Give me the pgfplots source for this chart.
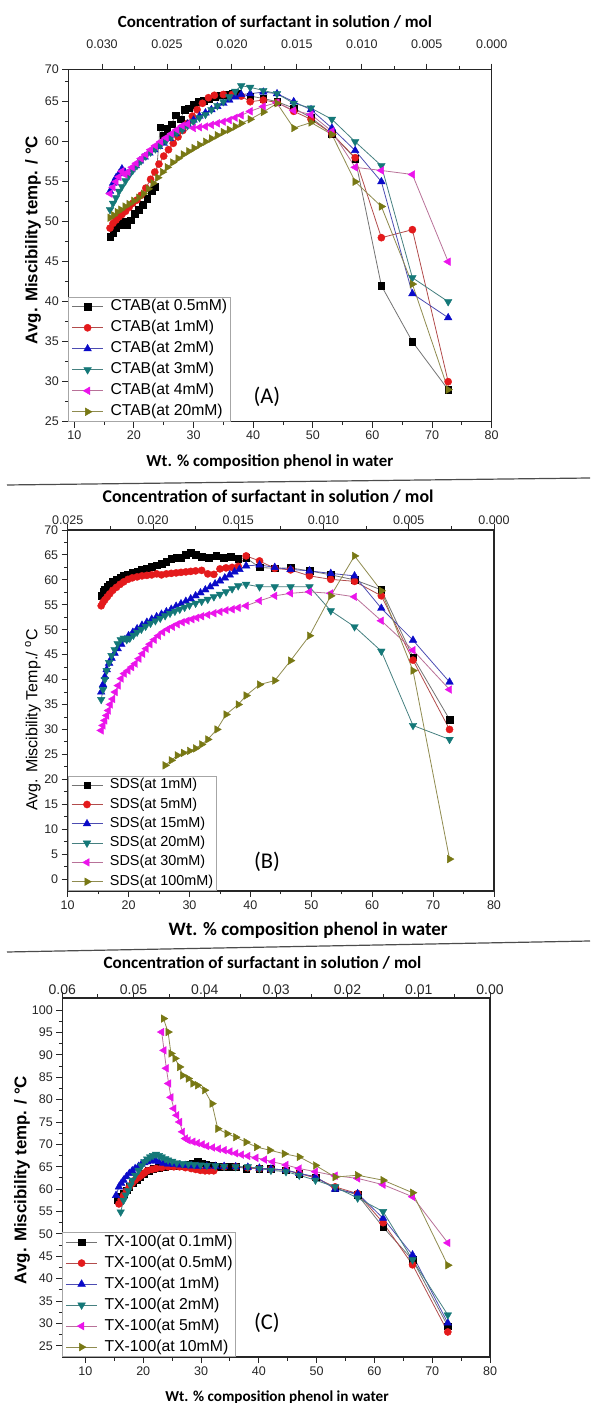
\documentclass[border=0pt]{standalone}
\usepackage{fontspec}
\setmainfont{Liberation Sans}
\newfontfamily\carlito{Carlito}
\usepackage{pgfplots}
\pgfplotsset{compat=1.18}

\definecolor{cred}{RGB}{228,26,28}
\definecolor{cblue}{RGB}{10,10,200}
\definecolor{cteal}{RGB}{20,120,120}
\definecolor{cmag}{RGB}{235,20,235}
\definecolor{colive}{RGB}{120,120,20}

\pgfplotsset{
  panel/.style={
    scale only axis,
    axis line style={black!85, line width=1.1pt},
    every tick/.style={black!85, line width=0.9pt},
    major tick length=6pt, minor tick length=3.5pt,
    tick align=outside, xtick pos=left, ytick pos=left,
    tick label style={font=\fontsize{12.5}{14}\selectfont, text=black!85},
    /pgf/number format/assume math mode=true,
    legend cell align=left,
    legend image code/.code={\draw[mark repeat=2,mark phase=2,##1] plot coordinates {(0pt,0pt) (15.5pt,0pt) (31pt,0pt)};},
    legend style={at={(axis description cs:0,0)}, anchor=south west, draw=gray!70,
      line width=0.8pt, fill=white, column sep=7pt, inner xsep=3pt, inner ysep=2pt,
      nodes={inner sep=0pt, text height=11.5pt, text depth=3.5pt}, row sep=6pt},
    xlabel style={font=\carlito\bfseries\fontsize{16.8}{18}\selectfont, anchor=center},
    ylabel style={font=\bfseries\fontsize{16.9}{18}\selectfont, anchor=center},
    every axis plot/.append style={line width=0.8pt},
  },
  topaxis/.style={
    scale only axis, axis x line*=top, axis y line=none, x dir=reverse,
    ymin=0, ymax=1, scaled x ticks=false,
    axis line style={black!85, line width=1.1pt},
    every tick/.style={black!85, line width=0.9pt},
    major tick length=6pt, minor tick length=3.5pt, minor x tick num=1,
    tick align=outside,
    tick label style={font=\fontsize{12.5}{14}\selectfont, text=black!85},
    /pgf/number format/assume math mode=true,
    xlabel style={font=\carlito\bfseries\fontsize{17}{18}\selectfont, anchor=center},
  },
  sA/.style={draw=black!55, mark=square*, mark size=3.3pt, mark options={solid, line width=0.4pt, draw=black, fill=black}},
  sB/.style={draw=red!40!gray, mark=*, mark size=3.6pt, mark options={solid, line width=0.4pt, draw=cred, fill=cred}},
  sC/.style={draw=blue!40!gray, mark=triangle*, mark size=4.4pt, mark options={solid, line width=0.4pt, draw=cblue, fill=cblue}},
  sD/.style={draw=teal!45!gray, mark=triangle*, mark size=4.4pt, mark options={solid, line width=0.4pt, rotate=180, draw=cteal, fill=cteal}},
  sE/.style={draw=magenta!40!gray, mark=triangle*, mark size=4.4pt, mark options={solid, line width=0.4pt, rotate=90, draw=cmag, fill=cmag}},
  sF/.style={draw=olive!45!gray, mark=triangle*, mark size=4.4pt, mark options={solid, line width=0.4pt, rotate=-90, draw=colive, fill=colive}},
}

\begin{document}
\begin{tikzpicture}[x=1pt,y=1pt]
\path[use as bounding box] (0,0) rectangle (590,1403);

% separators
\draw[black!70, line width=1.2pt] (7,918) -- (590,925);
\draw[black!70, line width=1.2pt] (7,451) -- (590,462);

% ---------- (A) CTAB ----------
\begin{axis}[panel, at={(68.3pt,981.3pt)}, anchor=south west,
  width=423.4pt, height=352pt,
  xmin=9, xmax=80, ymin=25, ymax=69,
  xtick={10,20,...,80}, minor xtick={15,25,...,75},
  ytick={25,30,35,40,45,50,55,60,65,69}, yticklabels={25,30,35,40,45,50,55,60,65,70},
  minor ytick={27.5,32.5,...,67.5},
  xlabel={Wt. \% composition phenol in water},
  xlabel style={at={(axis description cs:0.476,-0.1145)}},
  ylabel={Avg. Miscibility temp. / °C},
  ylabel style={at={(axis description cs:-0.0834,0.516)}},
  legend style={font=\fontsize{15.7}{18}\selectfont},
]
\addplot[sA] coordinates {(16.0,48.1)(16.5,48.6)(17.0,49.2)(17.5,49.6)(18.2,50.0)(18.8,49.6)(19.5,50.2)(20.1,51.0)(20.8,51.5)(21.5,52.1)(22.2,52.9)(23.0,53.9)(23.6,54.4)(24.4,61.8)(25.0,60.8)(25.6,61.6)(26.3,62.2)(27.0,63.3)(27.8,62.8)(28.5,64.0)(29.2,64.2)(30.0,64.6)(30.8,65.0)(31.7,65.1)(32.6,65.4)(33.5,65.6)(34.5,65.8)(35.5,65.9)(36.5,66.0)(37.5,66.0)(39.5,65.7)(41.7,65.4)(44.0,65.0)(46.8,64.2)(49.7,63.0)(53.2,61.0)(57.1,57.9)(61.5,42.0)(66.7,35.0)(72.7,29.0)};
\addlegendentry{CTAB(at 0.5mM)}
\addplot[sB] coordinates {(16.0,49.2)(16.5,49.8)(17.0,50.2)(17.5,50.6)(18.0,50.9)(18.6,51.3)(19.2,51.8)(19.8,52.3)(20.5,52.7)(21.2,53.3)(22.0,54.2)(22.8,55.3)(23.5,56.2)(24.2,57.2)(25.0,58.2)(25.8,59.0)(26.6,59.8)(27.4,60.6)(28.2,61.4)(29.0,62.3)(29.8,63.2)(30.6,64.0)(31.5,64.8)(32.5,65.5)(33.5,65.8)(35.0,65.9)(36.5,65.9)(38.0,65.7)(39.5,65.0)(41.7,65.2)(44.0,64.9)(46.8,63.8)(49.7,62.8)(53.2,61.0)(57.1,58.0)(61.5,48.0)(66.7,49.0)(72.7,30.0)};
\addlegendentry{CTAB(at 1mM)}
\addplot[sC] coordinates {(16.0,53.8)(16.5,54.8)(17.0,55.5)(17.5,56.0)(18.0,56.6)(18.5,56.2)(19.0,56.0)(19.6,56.5)(20.3,57.0)(21.0,57.6)(21.8,58.1)(22.6,58.6)(23.4,59.0)(24.2,59.4)(25.0,59.8)(26.0,60.4)(27.0,61.0)(28.0,61.6)(29.0,62.2)(30.0,62.7)(31.0,63.2)(32.0,63.6)(33.0,64.0)(34.0,64.4)(35.0,64.8)(36.0,65.2)(37.0,65.6)(38.0,65.9)(39.5,66.0)(41.7,66.2)(44.0,66.0)(46.8,65.0)(49.7,64.0)(53.2,61.7)(57.1,58.9)(61.5,55.0)(66.7,41.0)(72.7,38.0)};
\addlegendentry{CTAB(at 2mM)}
\addplot[sD] coordinates {(16.0,51.5)(16.5,52.3)(17.0,53.0)(17.5,53.8)(18.0,54.4)(18.6,55.1)(19.2,55.8)(19.8,56.4)(20.5,57.0)(21.2,57.6)(22.0,58.2)(22.8,58.7)(23.6,59.1)(24.5,59.6)(25.4,60.1)(26.3,60.6)(27.2,61.1)(28.1,61.5)(29.0,62.0)(30.0,62.5)(31.0,63.0)(32.0,63.4)(33.0,64.0)(34.0,64.5)(35.0,65.0)(36.0,65.6)(37.0,66.3)(38.0,67.0)(39.5,66.8)(41.7,66.4)(44.0,66.0)(46.8,64.8)(49.7,64.2)(53.2,62.8)(57.1,60.0)(61.5,57.0)(66.7,43.0)(72.7,40.0)};
\addlegendentry{CTAB(at 3mM)}
\addplot[sE] coordinates {(16.0,53.5)(16.5,54.3)(17.0,55.0)(17.5,55.6)(18.0,56.3)(18.5,55.9)(19.0,56.2)(19.7,56.8)(20.4,57.3)(21.2,57.9)(22.0,58.4)(22.8,59.0)(23.6,59.5)(24.5,60.0)(25.4,60.5)(26.3,61.0)(27.2,61.5)(28.1,62.0)(29.0,62.2)(30.0,61.7)(31.0,61.8)(32.0,61.9)(33.0,62.1)(34.0,62.3)(35.0,62.5)(36.0,62.7)(37.0,63.0)(38.0,63.3)(39.5,63.8)(41.7,64.4)(44.0,64.9)(46.8,63.9)(49.7,63.4)(53.2,61.3)(57.1,56.8)(61.5,56.4)(66.7,55.9)(72.7,45.0)};
\addlegendentry{CTAB(at 4mM)}
\addplot[sF] coordinates {(16.0,50.5)(16.6,50.8)(17.2,51.2)(17.8,51.5)(18.5,51.9)(19.2,52.2)(20.0,52.6)(20.8,53.0)(21.6,53.5)(22.4,54.1)(23.2,54.8)(24.0,55.5)(24.8,56.2)(25.6,56.8)(26.5,57.4)(27.4,57.9)(28.3,58.4)(29.2,58.8)(30.1,59.2)(31.0,59.6)(32.0,60.0)(33.0,60.4)(34.0,60.8)(35.0,61.2)(36.0,61.5)(37.0,61.9)(38.0,62.3)(39.5,62.8)(41.7,63.7)(44.0,64.8)(46.8,61.7)(49.7,62.4)(53.2,60.9)(57.1,55.0)(61.5,51.9)(66.7,42.2)(72.7,29.0)};
\addlegendentry{CTAB(at 20mM)}
\node[font=\carlito\fontsize{22.5}{24}\selectfont] at (axis description cs:0.469,0.070) {(A)};
\end{axis}
\begin{axis}[topaxis, at={(68.3pt,981.3pt)}, anchor=south west,
  width=423.4pt, height=352pt,
  xmin=0, xmax=0.0326,
  xtick={0,0.005,0.01,0.015,0.02,0.025,0.03},
  xticklabel={\pgfmathprintnumber[fixed,fixed zerofill,precision=3]{\tick}},
  xticklabel style={yshift=12pt},
  xlabel={Concentration of surfactant in solution / mol},
  xlabel style={at={(axis description cs:0.488,1.1355)}},
]
\end{axis}

% ---------- (B) SDS ----------
\begin{axis}[panel, at={(67.7pt,512pt)}, anchor=south west,
  width=426.3pt, height=361pt,
  xmin=10, xmax=80, ymin=-2.4, ymax=70,
  xtick={10,20,...,80}, minor xtick={15,25,...,75},
  ytick={0,5,...,70}, minor ytick={2.5,7.5,...,67.5},
  xlabel={Wt. \% composition phenol in water},
  xlabel style={at={(axis description cs:0.564,-0.108)}, font=\carlito\bfseries\fontsize{19}{20}\selectfont},
  ylabel={Avg. Miscibility Temp./ \textsuperscript{o}C},
  ylabel style={at={(axis description cs:-0.0814,0.4737)}, font=\fontsize{16}{18}\selectfont},
  legend style={font=\fontsize{14.4}{16}\selectfont, nodes={text height=10.5pt, text depth=3.3pt}, row sep=5.5pt},
]
\addplot[sA] coordinates {(15.5,56.8)(15.8,57.6)(16.1,58.1)(16.5,58.6)(16.9,59.1)(17.4,59.6)(18.0,60.1)(18.6,60.5)(19.2,60.8)(19.9,61.1)(20.6,61.4)(21.4,61.7)(22.2,62.0)(23.0,62.3)(23.8,62.6)(24.6,62.9)(25.4,63.2)(26.2,63.6)(27.0,64.3)(27.8,64.4)(28.6,64.5)(29.4,65.0)(30.2,65.4)(31.0,65.1)(32.0,64.6)(33.2,64.5)(34.4,64.8)(35.6,64.4)(36.8,64.7)(38.0,64.3)(39.3,64.4)(41.5,62.5)(44.0,62.3)(46.6,62.4)(49.7,61.8)(53.2,61.0)(57.1,60.0)(61.5,58.0)(66.7,44.5)(72.7,32.0)};
\addlegendentry{SDS(at 1mM)}
\addplot[sB] coordinates {(15.5,54.8)(15.8,55.5)(16.1,56.0)(16.5,56.6)(16.9,57.2)(17.4,57.9)(18.0,58.5)(18.6,59.1)(19.2,59.6)(19.9,60.1)(20.6,60.4)(21.4,60.6)(22.2,60.8)(23.0,60.9)(23.8,61.0)(24.6,61.2)(25.4,61.0)(26.2,61.2)(27.0,61.3)(27.8,61.4)(28.6,61.5)(29.4,61.6)(30.2,61.7)(31.0,61.8)(32.0,61.9)(33.0,61.2)(34.0,61.1)(35.0,62.2)(36.0,62.4)(37.0,62.5)(38.0,62.7)(39.3,64.8)(41.5,63.8)(44.0,62.3)(46.6,62.0)(49.7,60.8)(53.2,60.1)(57.1,59.7)(61.5,56.8)(66.7,43.9)(72.7,30.0)};
\addlegendentry{SDS(at 5mM)}
\addplot[sC] coordinates {(15.5,37.5)(15.8,39.0)(16.1,40.6)(16.4,42.0)(16.8,43.3)(17.2,44.3)(17.7,45.3)(18.2,46.2)(18.8,47.1)(19.4,48.0)(20.0,48.8)(20.7,49.5)(21.4,50.2)(22.2,50.9)(23.0,51.5)(23.8,52.1)(24.6,52.6)(25.4,53.1)(26.2,53.6)(27.0,54.1)(27.8,54.7)(28.6,55.2)(29.4,55.7)(30.2,56.2)(31.0,56.8)(31.8,57.4)(32.6,58.0)(33.4,58.6)(34.2,59.2)(35.0,59.8)(35.8,60.4)(36.6,61.0)(37.4,61.6)(38.2,62.1)(39.3,62.8)(41.5,63.0)(44.0,62.5)(46.6,62.1)(49.7,61.8)(53.2,61.3)(57.1,60.8)(61.5,54.3)(66.7,47.9)(72.7,39.5)};
\addlegendentry{SDS(at 15mM)}
\addplot[sD] coordinates {(15.5,36.0)(15.8,38.0)(16.1,40.0)(16.4,41.8)(16.8,43.4)(17.2,44.8)(17.7,46.0)(18.2,47.2)(18.7,48.0)(19.2,48.3)(19.7,48.0)(20.2,48.3)(20.8,48.9)(21.4,49.5)(22.1,50.1)(22.8,50.7)(23.6,51.3)(24.4,51.8)(25.2,52.3)(26.0,52.8)(26.8,53.3)(27.6,53.7)(28.4,54.1)(29.2,54.5)(30.0,54.9)(31.0,55.3)(32.0,55.7)(33.0,56.1)(34.0,56.6)(35.0,57.1)(36.0,57.6)(37.0,58.2)(38.0,58.8)(39.3,59.1)(41.5,58.6)(44.0,58.6)(46.6,58.6)(49.7,58.6)(53.2,53.8)(57.1,50.6)(61.5,45.7)(66.7,30.8)(72.7,28.0)};
\addlegendentry{SDS(at 20mM)}
\addplot[sE] coordinates {(15.5,29.8)(15.8,30.8)(16.1,31.8)(16.4,32.8)(16.7,33.8)(17.0,35.0)(17.4,36.1)(17.8,37.5)(18.3,38.8)(18.8,40.2)(19.3,41.2)(19.9,41.8)(20.5,42.5)(21.1,43.2)(21.7,44.2)(22.3,45.2)(22.9,46.2)(23.5,47.1)(24.2,48.0)(24.9,48.8)(25.6,49.5)(26.4,50.1)(27.2,50.6)(28.0,51.1)(28.8,51.5)(29.6,51.8)(30.4,52.1)(31.2,52.4)(32.0,52.7)(33.0,53.0)(34.0,53.3)(35.0,53.6)(36.0,53.9)(37.0,54.1)(38.0,54.4)(39.3,54.8)(41.5,55.8)(44.0,56.8)(46.6,57.3)(49.7,57.6)(53.2,57.3)(57.1,56.6)(61.5,51.8)(66.7,45.9)(72.7,38.0)};
\addlegendentry{SDS(at 30mM)}
\addplot[sF] coordinates {(26.0,22.8)(27.0,23.8)(28.0,24.8)(29.0,25.3)(30.0,25.7)(31.0,26.2)(32.0,27.0)(33.0,28.0)(34.5,30.0)(36.0,33.0)(38.0,35.0)(39.3,36.8)(41.5,39.0)(44.0,39.8)(46.6,43.8)(49.7,48.8)(53.2,56.8)(57.1,64.8)(61.5,57.8)(66.7,41.8)(72.7,4.0)};
\addlegendentry{SDS(at 100mM)}
\node[font=\carlito\fontsize{22.5}{24}\selectfont] at (axis description cs:0.4675,0.0803) {(B)};
\end{axis}
\begin{axis}[topaxis, at={(67.7pt,512pt)}, anchor=south west,
  width=426.3pt, height=361pt,
  xmin=0, xmax=0.025,
  xtick={0,0.005,0.01,0.015,0.02,0.025},
  xticklabel={\pgfmathprintnumber[fixed,fixed zerofill,precision=3]{\tick}},
  xticklabel style={yshift=-4pt},
  xlabel={Concentration of surfactant in solution / mol},
  xlabel style={at={(axis description cs:0.470,1.0914)}, font=\carlito\bfseries\fontsize{17.9}{19}\selectfont},
]
\end{axis}

% ---------- (C) TX-100 ----------
\begin{axis}[panel, at={(62.3pt,46pt)}, anchor=south west,
  width=427.7pt, height=359pt,
  xmin=6, xmax=80, ymin=22.5, ymax=102.7,
  xtick={10,20,...,80}, minor xtick={15,25,...,75},
  ytick={25,30,...,100}, minor ytick={27.5,32.5,...,97.5},
  xlabel={Wt. \% composition phenol in water},
  xlabel style={at={(axis description cs:0.502,-0.1114)}, font=\carlito\bfseries\fontsize{15.2}{17}\selectfont},
  ylabel={Avg. Miscibility temp. / °C},
  ylabel style={at={(axis description cs:-0.0942,0.493)}},
  legend style={font=\fontsize{15.8}{18}\selectfont},
]
\addplot[sA] coordinates {(15.6,57.5)(16.1,58.3)(16.6,59.0)(17.1,59.8)(17.6,60.5)(18.2,61.3)(18.9,62.0)(19.5,62.8)(20.2,63.5)(21.0,64.1)(21.7,64.6)(22.7,64.8)(23.7,65.0)(24.7,65.1)(25.8,65.1)(26.8,65.3)(27.8,65.4)(28.6,65.8)(29.4,66.1)(30.2,65.8)(30.9,65.4)(32.0,65.2)(33.4,65.0)(34.7,65.0)(36.0,65.0)(37.8,64.6)(40.1,64.6)(42.1,64.6)(44.7,64.2)(47.0,63.5)(49.8,62.7)(53.2,60.2)(57.1,58.7)(61.5,51.5)(66.6,44.2)(72.7,29.4)};
\addlegendentry{TX-100(at 0.1mM)}
\addplot[sB] coordinates {(15.8,56.7)(16.2,57.7)(16.6,58.6)(17.1,59.6)(17.6,60.5)(18.1,61.3)(18.6,62.0)(19.2,62.6)(19.7,63.1)(20.2,63.6)(20.7,64.1)(21.5,64.4)(22.2,64.6)(23.2,64.8)(24.3,65.0)(25.3,65.0)(26.3,65.0)(27.3,64.8)(28.3,64.6)(29.1,64.4)(29.9,64.2)(30.7,64.1)(31.4,64.1)(32.2,64.1)(34.0,65.0)(36.0,65.0)(38.1,64.8)(40.1,64.6)(42.1,64.4)(44.7,64.2)(47.0,63.5)(49.8,62.5)(53.2,60.5)(57.1,59.0)(61.5,52.5)(66.6,43.1)(72.7,28.1)};
\addlegendentry{TX-100(at 0.5mM)}
\addplot[sC] coordinates {(15.3,58.6)(15.8,60.5)(16.2,61.3)(16.6,62.0)(17.1,62.8)(17.6,63.5)(18.1,64.1)(18.6,64.6)(19.2,65.1)(19.7,65.6)(20.2,65.9)(20.7,66.1)(21.2,66.3)(21.7,66.5)(22.2,66.3)(22.7,66.1)(23.5,65.8)(24.3,65.6)(25.3,65.5)(26.3,65.4)(27.3,65.3)(28.3,65.2)(29.5,65.1)(31.0,65.1)(32.5,65.1)(34.0,65.1)(36.0,65.0)(38.1,64.9)(40.1,64.7)(42.1,64.5)(44.7,64.3)(47.0,63.5)(49.8,62.8)(53.2,60.0)(57.1,59.0)(61.5,53.5)(66.6,45.3)(72.7,30.1)};
\addlegendentry{TX-100(at 1mM)}
\addplot[sD] coordinates {(16.1,54.9)(16.6,57.5)(17.0,58.7)(17.4,59.7)(17.8,60.9)(18.1,62.0)(18.6,63.1)(19.2,64.2)(19.7,65.2)(20.2,66.1)(20.7,66.7)(21.2,67.2)(21.7,67.5)(22.2,67.8)(22.7,67.5)(23.2,67.2)(23.8,66.8)(24.3,66.5)(25.0,66.2)(25.8,65.9)(26.8,65.7)(27.8,65.6)(28.8,65.5)(29.9,65.4)(31.0,65.3)(32.5,65.2)(34.0,65.1)(36.0,65.0)(38.1,65.0)(40.1,64.6)(42.1,64.2)(44.7,63.9)(47.0,63.1)(49.8,62.0)(53.2,60.5)(57.1,58.0)(61.5,55.0)(66.6,44.2)(72.7,31.9)};
\addlegendentry{TX-100(at 2mM)}
\addplot[sE] coordinates {(23.2,95.1)(23.6,91.0)(24.0,87.0)(24.4,83.6)(24.8,80.5)(25.3,78.0)(25.8,76.5)(26.3,75.0)(26.8,72.8)(27.3,71.3)(27.8,70.9)(28.6,70.6)(29.4,70.3)(30.2,70.0)(31.0,69.6)(32.0,69.3)(33.0,69.0)(34.0,68.7)(35.0,68.4)(36.0,68.0)(37.0,67.7)(38.1,67.4)(39.5,67.0)(41.0,66.6)(42.4,66.1)(44.7,65.4)(47.0,64.6)(49.8,63.9)(53.2,63.0)(57.1,62.4)(61.5,61.0)(66.6,58.3)(72.7,48.0)};
\addlegendentry{TX-100(at 5mM)}
\addplot[sF] coordinates {(23.5,98.1)(24.3,95.1)(24.8,90.3)(25.5,89.2)(26.3,87.3)(26.8,85.4)(27.8,84.7)(28.6,83.6)(29.4,83.2)(30.6,82.1)(31.9,79.1)(32.9,73.5)(34.5,72.4)(36.0,71.6)(37.8,70.5)(39.6,69.4)(41.9,68.7)(44.4,67.9)(47.0,67.2)(49.8,65.3)(53.2,62.7)(57.1,63.1)(61.5,62.0)(66.6,59.2)(72.7,43.0)};
\addlegendentry{TX-100(at 10mM)}
\node[font=\carlito\fontsize{22.5}{24}\selectfont] at (axis description cs:0.4786,0.0947) {(C)};
\end{axis}
\begin{axis}[topaxis, at={(62.3pt,46pt)}, anchor=south west,
  width=427.7pt, height=359pt,
  xmin=0, xmax=0.06,
  xtick={0,0.01,0.02,0.03,0.04,0.05,0.06},
  xticklabel={\pgfmathprintnumber[fixed,fixed zerofill,precision=2]{\tick}},
  tick label style={font=\fontsize{14}{16}\selectfont},
  xticklabel style={yshift=-6pt},
  xlabel={Concentration of surfactant in solution / mol},
  xlabel style={at={(axis description cs:0.468,1.0975)}, font=\carlito\bfseries\fontsize{17.2}{19}\selectfont},
]
\end{axis}
\end{tikzpicture}
\end{document}
